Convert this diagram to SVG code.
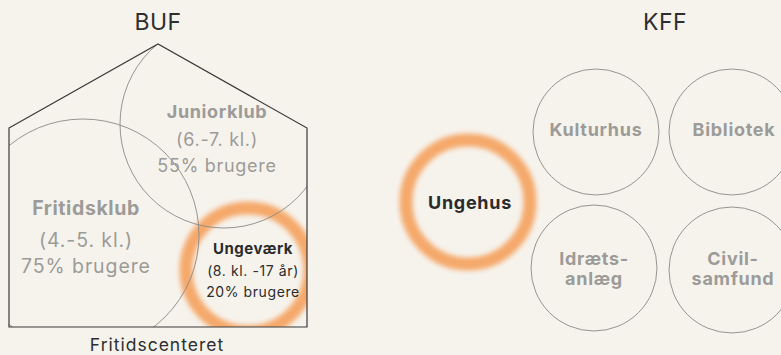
<svg xmlns="http://www.w3.org/2000/svg" width="781" height="355" viewBox="0 0 781 355">
  <style>
    text { font-family: Inter, "Liberation Sans", sans-serif; text-anchor: middle; }
    .title { font-size: 23px; fill: #2e2e2e; letter-spacing: 0.5px; }
    .caption { font-size: 17.5px; fill: #2e2e2e; letter-spacing: 1px; }
    .lbl-b { font-size: 18px; font-weight: 700; fill: #9c9b98; letter-spacing: 0.6px; }
    .lbl { font-size: 18px; fill: #9c9b98; letter-spacing: 0.7px; }
    .big { font-size: 19.5px; }
    .lbl.big { letter-spacing: 0.9px; }
    .hl-b { font-size: 15px; font-weight: 700; fill: #2b2b2b; letter-spacing: 0.5px; }
    .hl { font-size: 14px; fill: #2b2b2b; letter-spacing: 0.6px; }
    .node-b { font-size: 18px; font-weight: 700; fill: #9c9b98; letter-spacing: 0.7px; }
    .ring-line { fill: none; stroke: #8a8986; stroke-width: 0.9; }
    .glow { fill: none; stroke: #f5a96b; stroke-width: 13; filter: url(#soft); }
    .house { fill: none; stroke: #3a3a3a; stroke-width: 1.2; }
  </style>
  <defs>
    <filter id="soft" x="-30%" y="-30%" width="160%" height="160%">
      <feGaussianBlur stdDeviation="2.8"/>
    </filter>
    <clipPath id="houseClip">
      <polygon points="9,128 158,44 307,128 307,327 9,327"/>
    </clipPath>
  </defs>
  <rect width="781" height="355" fill="#f6f3ed"/>

  <text class="title" x="158" y="30">BUF</text>
  <text class="title" x="665" y="30">KFF</text>

  <!-- Fritidscenteret: house outline with overlapping clubs -->
  <g id="fritidscenteret">
    <g clip-path="url(#houseClip)">
      <circle class="glow" cx="248" cy="270" r="62"/>
      <circle class="ring-line" cx="83" cy="235" r="116"/>
      <circle class="ring-line" cx="224" cy="124" r="104"/>
    </g>
    <polygon class="house" points="9,128 158,44 307,128 307,327 9,327"/>
    <text class="caption" x="157" y="351">Fritidscenteret</text>
  </g>

  <g id="juniorklub">
    <text class="lbl-b" x="217" y="118">Juniorklub</text>
    <text class="lbl" x="217" y="146">(6.-7. kl.)</text>
    <text class="lbl" x="217" y="172">55% brugere</text>
  </g>

  <g id="fritidsklub">
    <text class="lbl-b big" x="86" y="215">Fritidsklub</text>
    <text class="lbl big" x="86" y="247">(4.-5. kl.)</text>
    <text class="lbl big" x="86" y="273">75% brugere</text>
  </g>

  <g id="ungevaerk">
    <text class="hl-b" x="253" y="254">Ungeværk</text>
    <text class="hl" x="253" y="276">(8. kl. -17 år)</text>
    <text class="hl" x="253" y="297">20% brugere</text>
  </g>

  <!-- KFF -->
  <g id="ungehus">
    <circle class="glow" cx="468" cy="202" r="62"/>
    <text class="node-b" x="470" y="209" style="fill:#2b2b2b">Ungehus</text>
  </g>

  <g id="kulturhus">
    <circle class="ring-line" cx="596" cy="132" r="63"/>
    <text class="node-b" x="596" y="136">Kulturhus</text>
  </g>

  <g id="bibliotek">
    <circle class="ring-line" cx="732" cy="132" r="63"/>
    <text class="node-b" x="734" y="136">Bibliotek</text>
  </g>

  <g id="idraetsanlaeg">
    <circle class="ring-line" cx="594" cy="268" r="63"/>
    <text class="node-b" x="594" y="265">Idræts-</text>
    <text class="node-b" x="594" y="285">anlæg</text>
  </g>

  <g id="civilsamfund">
    <circle class="ring-line" cx="732" cy="270" r="63"/>
    <text class="node-b" x="733" y="265">Civil-</text>
    <text class="node-b" x="733" y="285">samfund</text>
  </g>

  <g id="connectors"/>
</svg>
